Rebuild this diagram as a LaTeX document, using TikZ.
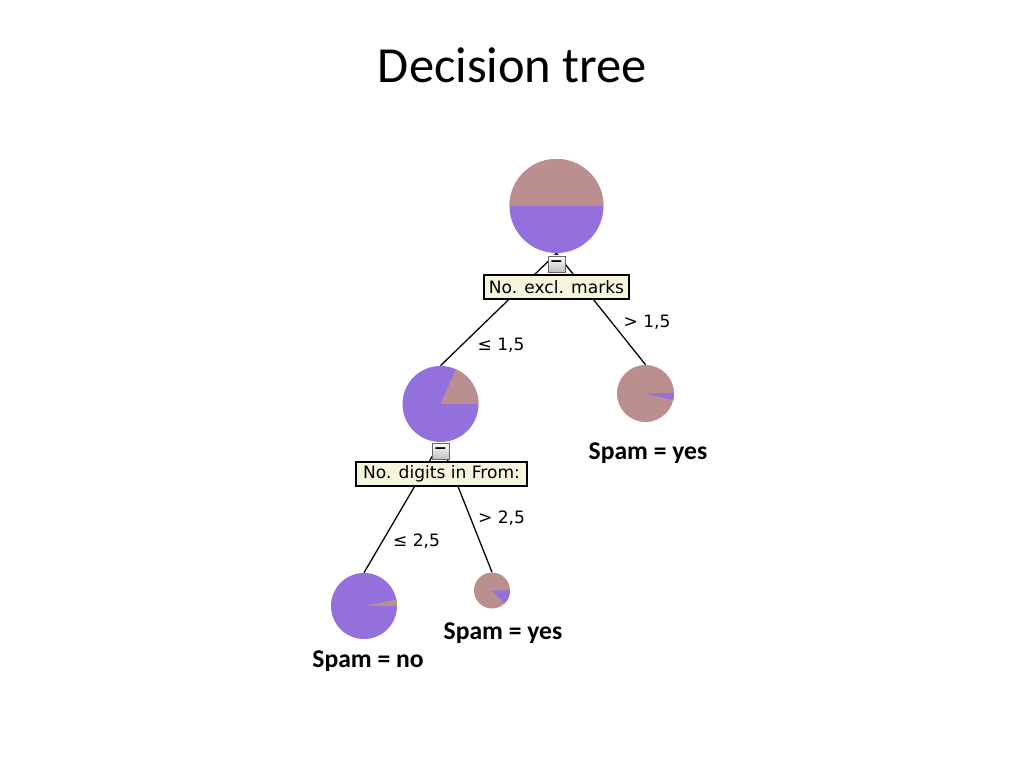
\documentclass[tikz,border=0pt]{standalone}
\usepackage{fontspec}
\setmainfont{Carlito}
\newfontfamily\treefont{DejaVu Sans}
\usetikzlibrary{positioning}

\definecolor{spamyes}{RGB}{188,143,143}
\definecolor{spamno}{RGB}{147,112,219}
\definecolor{boxfill}{RGB}{245,245,222}

% slice of a pie: node, start, end, radius, colour
\newcommand{\pieslice}[5]{\fill[#5] (#1.center) -- ++(#2:#4) arc[start angle=#2, end angle=#3, radius=#4] -- cycle;}

\begin{document}
\begin{tikzpicture}[x=0.703125pt, y=0.703125pt,
  pie/.style={circle, inner sep=0pt, minimum size=#1*0.703125pt},
  split/.style={draw=black, line width=0.8pt, fill=boxfill, inner sep=0pt, minimum width=#1*0.703125pt, minimum height=24*0.703125pt, font=\treefont\fontsize{12}{14}\selectfont},
  toggle/.style={draw=gray!80!black, line width=0.6pt, top color=white, bottom color=gray!50, inner sep=0pt, minimum width=17*0.703125pt, minimum height=16*0.703125pt, font=\treefont\bfseries\fontsize{11}{11}\selectfont},
  cond/.style={font=\treefont\fontsize{12}{14}\selectfont},
  leaf/.style={anchor=base, font=\bfseries\fontsize{18}{22}\selectfont},
  edge/.style={line width=0.9pt}]

\useasboundingbox (0,0) rectangle (1024,768);

% title
\node (title) [anchor=base, font=\fontsize{35.5}{40}\selectfont] at (512.5, 685) {Decision tree};

% pies
\node (root) [pie=94, fill=spamno] at (556.5, 562) {};
\pieslice{root}{0}{180}{47}{spamyes}

\node (excl) [pie=76, fill=spamno] at (440.5, 364) {};
\pieslice{excl}{0}{66}{38}{spamyes}

\node (exclyes) [pie=57, fill=spamyes] at (645.5, 374.5) {};
\pieslice{exclyes}{-13}{1}{28.5}{spamno}

\node (digitsno) [pie=66, fill=spamno] at (364, 162) {};
\pieslice{digitsno}{0}{11}{33}{spamyes}

\node (digitsyes) [pie=36, fill=spamyes] at (492, 177.5) {};
\pieslice{digitsyes}{-47}{0}{18}{spamno}

% edges
\draw[edge] (root.south) -- (excl.north);
\draw[edge] (root.south) -- (exclyes.north);
\draw[edge] (excl.south) -- (digitsno.north);
\draw[edge] (excl.south) -- (digitsyes.north);

% split boxes
\node (rootbtn) [toggle] at (556.5, 504) {−};
\node (rootsplit) [split=145] at (556.5, 481) {No. excl. marks};

\node (exclbtn) [toggle] at (440.5, 317) {−};
\node (exclsplit) [split=171] at (441.5, 294) {No. digits in From:};

% conditions
\node (le15) [cond] at (501, 423) {≤ 1,5};
\node (gt15) [cond] at (647, 446) {> 1,5};
\node (le25) [cond] at (416.5, 226.5) {≤ 2,5};
\node (gt25) [cond] at (501.5, 250) {> 2,5};

% leaves
\node (yes1) [leaf] at (648, 308.5) {Spam = yes};
\node (yes2) [leaf] at (503, 128.5) {Spam = yes};
\node (no1) [leaf] at (368, 100.5) {Spam = no};

\end{tikzpicture}
\end{document}
